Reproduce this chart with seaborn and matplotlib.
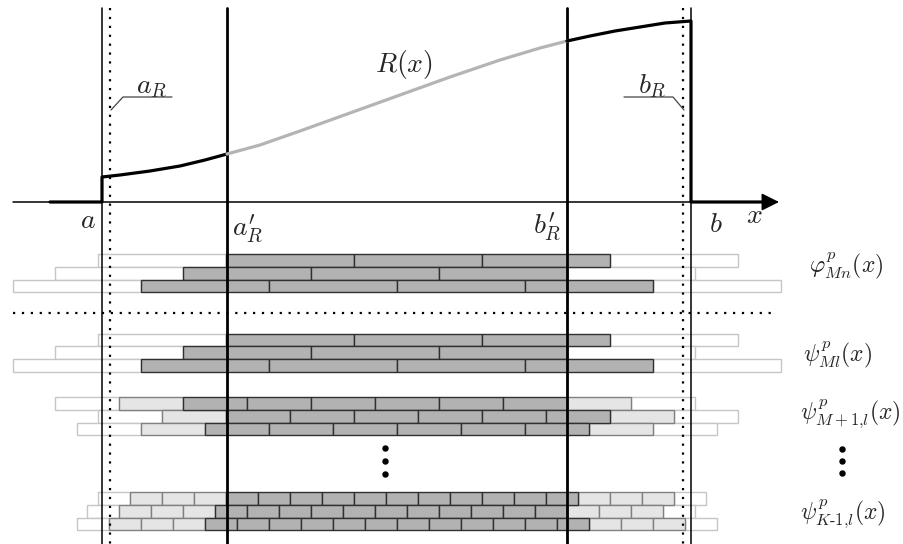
import matplotlib
matplotlib.use("Agg")
import matplotlib.pyplot as plt
import numpy as np
import pandas as pd
import seaborn as sns

# ---- knots on the x axis (diagram units) ----
knot_a, knot_aR, knot_aRp = 102, 110, 227
knot_bRp, knot_bR, knot_b = 567, 683, 691
axis_y = 202

# ---- samples of R(x), heights measured above the x axis ----
r_left_x = [102, 120, 150, 180, 205, 227]
r_left_h = [25, 27, 31, 36, 42, 48]
r_mid_x = [227, 260, 300, 350, 400, 450, 500, 540, 567]
r_mid_h = [48, 57, 71, 89, 107, 125, 142, 154, 161]
r_right_x = [567, 590, 615, 640, 665, 691]
r_right_h = [161, 166, 171, 175, 179, 181]

# ---- basis-function supports: first left edge, support width, coverage code per bar
# W = outside [a_R, b_R], L = inside [a_R, b_R] only, D = overlapping [a'_R, b'_R]
phi_starts = [98, 55, 13]
phi_width = 128
phi_codes = ["WDDDW", "WDDDW", "WDDDDW"]

psiM_starts = [98, 55, 13]
psiM_width = 128
psiM_codes = ["WDDDW", "WDDDW", "WDDDDW"]

psiM1_starts = [55, 98, 77]
psiM1_width = 64
psiM1_codes = ["WL" + "D" * 6 + "LW"] * 3

psiK_starts = [98, 87, 77]
psiK_width = 32
psiK_codes = ["WLLL" + "D" * 11 + "LLLW",
              "WLLL" + "D" * 11 + "LLLW",
              "WLLL" + "D" * 12 + "LLLW"]

group_tops = [254, 333.5, 397, 492]
row_h = 12.8

groups = [(phi_starts, phi_width, phi_codes),
          (psiM_starts, psiM_width, psiM_codes),
          (psiM1_starts, psiM1_width, psiM1_codes),
          (psiK_starts, psiK_width, psiK_codes)]

records = []
for g, (starts, width, codes) in enumerate(groups):
    for r, (s, code) in enumerate(zip(starts, codes)):
        yc = group_tops[g] + row_h * (r + 0.5)
        for k, c in enumerate(code):
            records.append(dict(group=g, row=r, left=s + k * width,
                                width=width, y=yc, kind=c))
bars = pd.DataFrame(records)

# ---- figure ----
sns.set_theme(style="white")
plt.rcParams["mathtext.fontset"] = "cm"
plt.rcParams["font.family"] = ["DejaVu Serif", "DejaVu Sans"]

fig = plt.figure(figsize=(9.04, 5.44), dpi=100)
ax = fig.add_axes([0, 0, 1, 1])
ax.set_xlim(0, 904)
ax.set_ylim(544, 0)
ax.axis("off")

styles = {"W": dict(color="white", edgecolor="#c6c6c6", zorder=2),
          "L": dict(color="#e5e5e5", edgecolor="#808080", zorder=3),
          "D": dict(color="#b2b2b2", edgecolor="#303030", zorder=4)}
for kind in ["W", "L", "D"]:
    sub = bars[bars.kind == kind]
    ax.barh(sub.y, sub.width, left=sub.left, height=row_h,
            linewidth=1.0, **styles[kind])

# separator between scaling and wavelet functions
ax.plot([13, 776], [312.5, 312.5], color="black", lw=1.6,
        linestyle=(0, (1, 3)), zorder=5)

# vertical reference lines
top, bottom = 8, 544
for xv, lw in [(knot_a, 1.1), (knot_b, 1.1), (knot_aRp, 2.0), (knot_bRp, 2.0)]:
    ax.plot([xv, xv], [top, bottom], color="black", lw=lw, zorder=6)
for xv in [knot_aR, knot_bR]:
    ax.plot([xv, xv], [top, bottom], color="black", lw=1.6,
            linestyle=(0, (1, 3)), zorder=6)

# x axis with arrow
ax.annotate("", xy=(779, axis_y), xytext=(13, axis_y),
            arrowprops=dict(arrowstyle="-|>", lw=1.1, color="black",
                            mutation_scale=27, shrinkA=0, shrinkB=0),
            zorder=7)

# R(x): zero outside [a, b], grey in the inner part
curve_kw = dict(ax=ax, sort=False, estimator=None, legend=False)
sns.lineplot(x=[50, knot_a] + r_left_x,
             y=[axis_y, axis_y] + [axis_y - h for h in r_left_h],
             color="black", lw=2.3, zorder=8, **curve_kw)
sns.lineplot(x=r_mid_x, y=[axis_y - h for h in r_mid_h],
             color="#b4b4b4", lw=2.3, zorder=8, **curve_kw)
sns.lineplot(x=r_right_x + [knot_b, 764],
             y=[axis_y - h for h in r_right_h] + [axis_y, axis_y],
             color="black", lw=2.3, zorder=8, **curve_kw)

# leader lines for a_R and b_R
ax.plot([111, 123, 172], [110, 97, 97], color="#444444", lw=0.9, zorder=8)
ax.plot([684, 673, 624], [110, 97, 97], color="#444444", lw=0.9, zorder=8)

fs = 20
ax.text(404, 72, r"$R(x)$", fontsize=fs, ha="center", va="baseline")
ax.text(152, 93, r"$a_{R}$", fontsize=fs, ha="center", va="baseline")
ax.text(652, 93, r"$b_{R}$", fontsize=fs, ha="center", va="baseline")
ax.text(88, 228, r"$a$", fontsize=fs, ha="center", va="baseline")
ax.text(248, 235, r"$a^{\prime}_{R}$", fontsize=fs, ha="center", va="baseline")
ax.text(547, 233, r"$b^{\prime}_{R}$", fontsize=fs, ha="center", va="baseline")
ax.text(716, 232, r"$b$", fontsize=fs, ha="center", va="baseline")
ax.text(754, 223, r"$x$", fontsize=fs, ha="center", va="baseline")

fr = 17
ax.text(809, 272, r"$\varphi^{p}_{Mn}(x)$", fontsize=fr, ha="left", va="baseline")
ax.text(803, 361, r"$\psi^{p}_{Ml}(x)$", fontsize=fr, ha="left", va="baseline")
ax.text(800, 419, r"$\psi^{p}_{M+1{,}l}(x)$", fontsize=fr, ha="left", va="baseline")
ax.text(800, 519, r"$\psi^{p}_{K\text{-}1{,}l}(x)$", fontsize=fr, ha="left", va="baseline")

# vertical ellipses
ax.plot([385, 385, 385], [448, 461, 474], "o", color="black", ms=3.6, zorder=8)
ax.plot([842, 842, 842], [449, 461, 473], "o", color="black", ms=3.6, zorder=8)

fig.savefig("out.png", dpi=100)
